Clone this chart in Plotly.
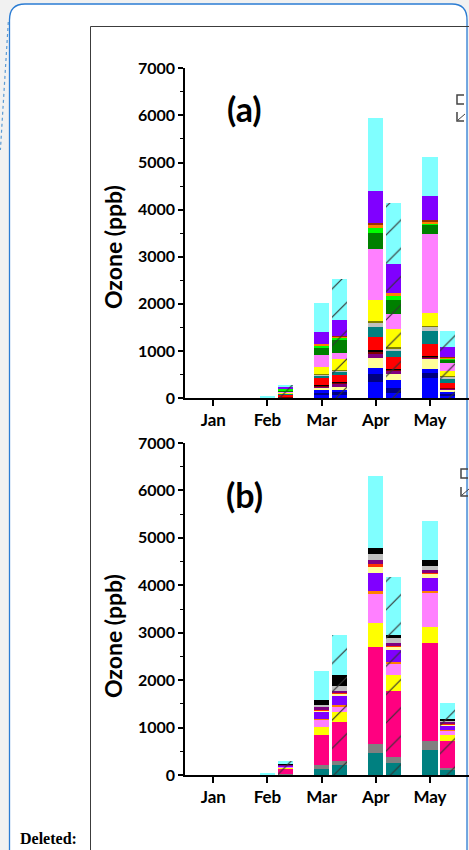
import plotly.graph_objects as go

W, H = 469, 850

MONTHS = ["Jan", "Feb", "Mar", "Apr", "May"]
Y_TICKS = [0, 1000, 2000, 3000, 4000, 5000, 6000, 7000]

# Order of values in every series: [Jan_L, Jan_R, Feb_L, Feb_R, Mar_L, Mar_R, Apr_L, Apr_R, May_L, May_R]
# ---------------- Panel (a) ----------------
A_BLUE        = [0, 0, 0, 0,   60,  60,  347, 113,  432,  50]
A_NAVY        = [0, 0, 0, 0,   40,  60,  157, 106,  106,  45]
A_BLUE2       = [0, 0, 0, 0,   70,  57,  134, 170,   72,  30]
A_LIGHTYELLOW = [0, 0, 0, 10,  50,  57,  207, 115,  213,  40]
A_PURPLEDARK  = [0, 0, 0, 0,   20,  57,   85,  77,   35,  20]
A_MAROON      = [0, 0, 0, 10,  25,  34,   42,  28,   20,  25]
A_BLACK       = [0, 0, 0, 0,   10,  10,   43,  15,   21,   5]
A_RED         = [0, 0, 0, 45, 143, 143,  289, 249,  249, 106]
A_TEAL        = [0, 0, 0, 15,  55,  70,  207, 128,  268,  94]
A_SILVER      = [0, 0, 0, 5,   15,  35,   79,  43,   85,  25]
A_OLIVE       = [0, 0, 0, 5,   20,  22,   48,  43,   36,  25]
A_YELLOW      = [0, 0, 0, 20, 143, 228,  441, 377,  262, 113]
A_PINK        = [0, 0, 0, 15, 262, 119, 1077, 319, 1675, 157]
A_DKGREEN     = [0, 0, 0, 35, 155, 270,  355, 298,  206,  70]
A_GREEN       = [0, 0, 0, 25,  43,  57,   92,  92,   15,  36]
A_ORANGE      = [0, 0, 0, 5,   36,  10,   78,  49,   49,  10]
A_DARKRED     = [0, 0, 0, 5,   10,  28,   28,   0,   28,  20]
A_PURPLE      = [0, 0, 0, 30, 249, 340,  696, 626,  511, 204]
A_CYAN        = [0, 0, 30, 60, 602, 866, 1540, 1290, 830, 340]

# ---------------- Panel (b) ----------------
B_TEAL        = [0, 0, 0, 10,  131, 215,  460,  249,  531,  95]
B_GREY        = [0, 0, 0, 5,    70,  70,  198,  141,  181,  57]
B_DEEPPINK    = [0, 0, 0, 120, 653, 828, 2051, 1391, 2074, 575]
B_YELLOW      = [0, 0, 0, 15,  154, 211,  491,  337,  329, 126]
B_PINK        = [0, 0, 0, 20,  154, 120,  620,  226,  738,  84]
B_ORANGE      = [0, 0, 0, 5,    28,  35,   70,   49,   36,  15]
B_PURPLE      = [0, 0, 0, 15,  141, 190,  365,  253,  259,  91]
B_LIGHTYELLOW = [0, 0, 0, 10,   35,  42,  141,   70,   93,  21]
B_RED         = [0, 0, 0, 5,    10,  21,   49,   10,   28,  21]
B_PURPLEDARK  = [0, 0, 0, 10,   56,  49,   78,   63,   57,  34]
B_SILVER      = [0, 0, 0, 5,    49,  99,  141,  105,   91,  35]
B_BLACK       = [0, 0, 0, 5,   105, 232,  112,   57,  120,  35]
B_CYAN        = [0, 0, 30, 80, 600, 835, 1520, 1230,  815, 335]

A_SERIES = [
    ("blue", A_BLUE, "#0000FF"), ("navy", A_NAVY, "#000080"), ("blue 2", A_BLUE2, "#0000FF"),
    ("light yellow", A_LIGHTYELLOW, "#FFFF99"), ("dark magenta", A_PURPLEDARK, "#800080"),
    ("maroon", A_MAROON, "#800000"), ("black", A_BLACK, "#000000"), ("red", A_RED, "#FF0000"),
    ("teal", A_TEAL, "#008080"), ("silver", A_SILVER, "#C0C0C0"), ("olive", A_OLIVE, "#808000"),
    ("yellow", A_YELLOW, "#FFFF00"), ("pink", A_PINK, "#FF80FF"), ("dark green", A_DKGREEN, "#008000"),
    ("green", A_GREEN, "#00FF00"), ("orange", A_ORANGE, "#FF8000"), ("dark red", A_DARKRED, "#993300"),
    ("purple", A_PURPLE, "#8000FF"), ("cyan", A_CYAN, "#80FFFF"),
]
B_SERIES = [
    ("teal", B_TEAL, "#008080"), ("grey", B_GREY, "#808080"), ("deep pink", B_DEEPPINK, "#FF0080"),
    ("yellow", B_YELLOW, "#FFFF00"), ("pink", B_PINK, "#FF80FF"), ("orange", B_ORANGE, "#FF8000"),
    ("purple", B_PURPLE, "#8000FF"), ("light yellow", B_LIGHTYELLOW, "#FFFF99"), ("red", B_RED, "#FF3300"),
    ("dark magenta", B_PURPLEDARK, "#800080"), ("silver", B_SILVER, "#C0C0C0"), ("black", B_BLACK, "#000000"),
    ("cyan", B_CYAN, "#80FFFF"),
]

RIGHT_OFFSET = 0.327
BAR_W = 0.28
X_POS = []
SHAPES_PAT = []
for i in range(len(MONTHS)):
    X_POS += [i, i + RIGHT_OFFSET]
    SHAPES_PAT += ["", "/"]


def px(x):
    return x / W


def py(y):
    return 1 - y / H


FONT = "Lato"
fig = go.Figure()

PATTERN = dict(shape=SHAPES_PAT, size=20, solidity=0.06, fgcolor="#333333", fgopacity=1, fillmode="overlay")
for name, vals, col in A_SERIES:
    fig.add_trace(go.Bar(x=X_POS, y=vals, width=BAR_W, name=name, xaxis="x", yaxis="y",
                         marker=dict(color=col, line=dict(width=0), pattern=PATTERN),
                         showlegend=False))
for name, vals, col in B_SERIES:
    fig.add_trace(go.Bar(x=X_POS, y=vals, width=BAR_W, name=name, xaxis="x2", yaxis="y2",
                         marker=dict(color=col, line=dict(width=0), pattern=PATTERN),
                         showlegend=False))

x_left = (185 - 213.3) / 54.17
x_right = (469 - 213.3) / 54.17

xcommon = dict(range=[x_left, x_right], tickvals=list(range(len(MONTHS))), ticktext=MONTHS,
               showline=True, linecolor="black", linewidth=1.5, ticks="outside", ticklen=6,
               tickwidth=1.5, tickcolor="black", showgrid=False, zeroline=False, automargin=False,
               tickfont=dict(family=FONT, size=17, color="black", weight="bold"))
ycommon = dict(range=[0, 7000], tickvals=Y_TICKS, showline=True, linecolor="black", linewidth=1.5,
               ticks="outside", ticklen=5, tickwidth=1.5, tickcolor="black", showgrid=False,
               zeroline=False, automargin=False,
               minor=dict(dtick=500, ticks="outside", ticklen=3, tickwidth=1.2, tickcolor="black"),
               tickfont=dict(family=FONT, size=16, color="black", weight="bold"))

fig.update_layout(
    width=W, height=H, margin=dict(l=0, r=0, t=0, b=0, pad=0, autoexpand=False),
    paper_bgcolor="#f1f1f1", plot_bgcolor="rgba(0,0,0,0)", barmode="stack",
    xaxis=dict(domain=[px(185), 1], anchor="y", **xcommon),
    yaxis=dict(domain=[py(398), py(68.3)], anchor="x", **ycommon),
    xaxis2=dict(domain=[px(185), 1], anchor="y2", **xcommon),
    yaxis2=dict(domain=[py(775), py(443)], anchor="x2", **ycommon),
)


def P(x, y):
    return f"{px(x):.5f},{py(y):.5f}"


shapes = []
# comment box (white with blue rounded border)
path = (f"M {P(9.5, 20)} Q {P(9.5, 4)} {P(25, 4)} L {P(452, 4)} Q {P(467, 4)} {P(467, 20)} "
        f"L {P(467, 900)} L {P(9.5, 900)} Z")
shapes.append(dict(type="path", path=path, xref="paper", yref="paper", layer="below",
                   fillcolor="white", line=dict(color="#2b7cd3", width=1.3)))
# dotted connector
shapes.append(dict(type="line", xref="paper", yref="paper", x0=px(8.3), y0=py(22), x1=px(0.4), y1=py(150),
                   line=dict(color="#5b9bd5", width=1.2, dash="dot"), layer="below"))
# chart frame
shapes.append(dict(type="rect", xref="paper", yref="paper", x0=px(90.5), y0=py(26.5), x1=px(490), y1=py(900),
                   line=dict(color="#3c3c3c", width=1), fillcolor="rgba(0,0,0,0)", layer="below"))
# legend symbol boxes (cut off on the right edge of the crop)
for (bx, by1, by2) in [(457, 95, 104), (461, 469, 478)]:
    shapes.append(dict(type="path", xref="paper", yref="paper",
                       path=f"M {P(bx + 7, by1)} L {P(bx, by1)} L {P(bx, by2)} L {P(bx + 7, by2)}",
                       line=dict(color="#444444", width=1.5)))
for (bx, by1, by2) in [(457, 112, 121), (461, 487, 496)]:
    shapes.append(dict(type="path", xref="paper", yref="paper",
                       path=f"M {P(bx, by1)} L {P(bx, by2)} L {P(bx + 7, by2)}",
                       line=dict(color="#444444", width=1.5)))
    shapes.append(dict(type="line", xref="paper", yref="paper", x0=px(bx + 1), y0=py(by2 - 1),
                       x1=px(bx + 8), y1=py(by1 + 2), line=dict(color="#444444", width=1)))
fig.update_layout(shapes=shapes)

ann = []
ann.append(dict(text="(a)", x=px(245), y=py(109), xref="paper", yref="paper", showarrow=False,
                xanchor="center", yanchor="middle",
                font=dict(family=FONT, size=34, color="black", weight="bold")))
ann.append(dict(text="(b)", x=px(245), y=py(494), xref="paper", yref="paper", showarrow=False,
                xanchor="center", yanchor="middle",
                font=dict(family=FONT, size=34, color="black", weight="bold")))
for yc in (247, 636):
    ann.append(dict(text="Ozone (ppb)", x=px(113), y=py(yc), xref="paper", yref="paper", showarrow=False,
                    xanchor="center", yanchor="middle", textangle=-90,
                    font=dict(family=FONT, size=23, color="black", weight="bold")))
ann.append(dict(text="Deleted:", x=px(18), y=py(849), xref="paper", yref="paper", showarrow=False,
                xanchor="left", yanchor="bottom",
                font=dict(family="Liberation Serif", size=16, color="black", weight="bold")))
fig.update_layout(annotations=ann)

fig.write_html("out.html")
